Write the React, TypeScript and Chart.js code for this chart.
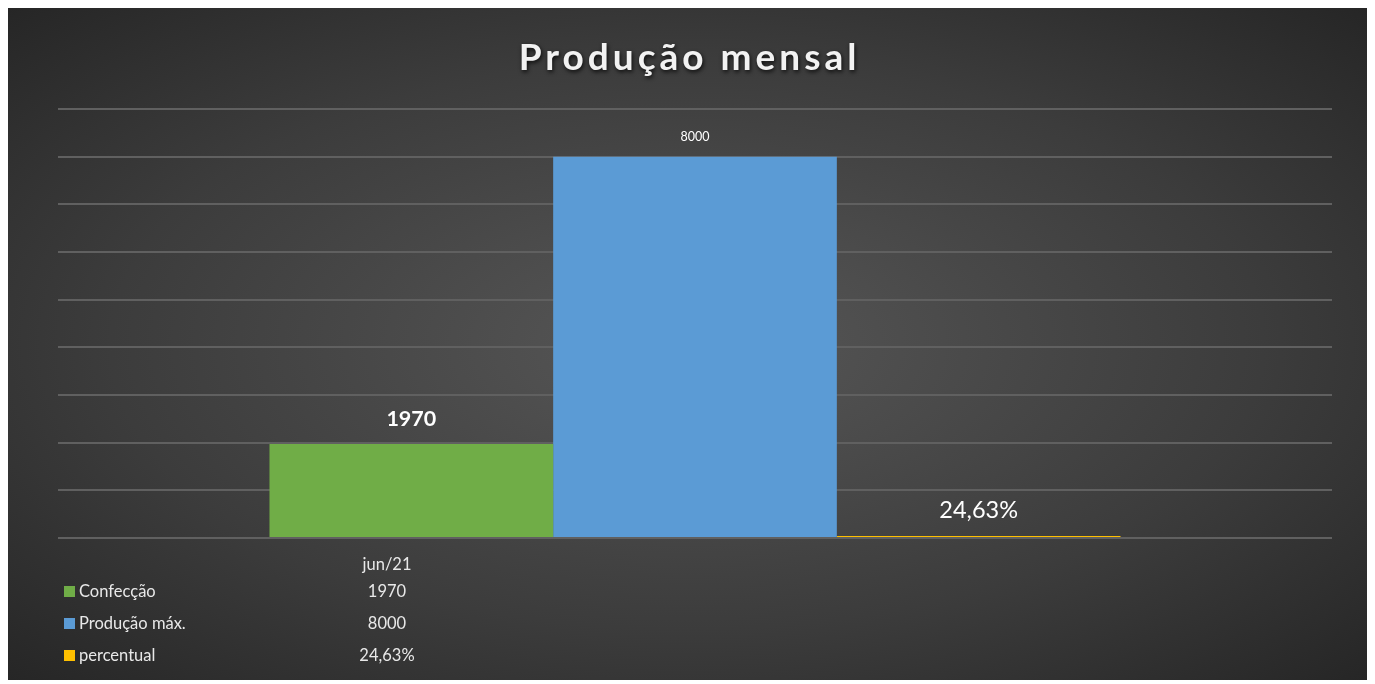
import React, { useEffect, useRef } from "react";
import { Chart, registerables } from "chart.js";

Chart.register(...registerables);

const categories = ["jun/21"];
const seriesNames = ["Confecção", "Produção máx.", "percentual"];
const confeccao = [1970];
const producaoMax = [8000];
const percentual = [0.2463];
const valueLabels = ["1970", "8000", "24,63%"];
const colors = ["#70AD47", "#5B9BD5", "#FFC000"];
const titleText = "Produção mensal";

const FONT = "Lato, 'Open Sans', sans-serif";

const overlayPlugin = {
  id: "overlay",
  afterDatasetsDraw(chart: any) {
    const ctx = chart.ctx as CanvasRenderingContext2D;
    ctx.save();
    const labelStyles = [
      { font: `bold 21.5px ${FONT}`, off: 25 },
      { font: `12.5px ${FONT}`, off: 20 },
      { font: `23.5px ${FONT}`, off: 26 },
    ];
    chart.data.datasets.forEach((ds: any, i: number) => {
      const meta = chart.getDatasetMeta(i);
      meta.data.forEach((bar: any) => {
        ctx.font = labelStyles[i].font;
        ctx.fillStyle = "#ffffff";
        ctx.textAlign = "center";
        ctx.textBaseline = "middle";
        ctx.fillText(valueLabels[i], bar.x, bar.y - labelStyles[i].off);
      });
    });
    ctx.restore();
  },
  afterDraw(chart: any) {
    const ctx = chart.ctx as CanvasRenderingContext2D;
    ctx.save();
    ctx.font = `bold 37px ${FONT}`;
    (ctx as any).letterSpacing = "4px";
    ctx.textAlign = "center";
    ctx.textBaseline = "middle";
    ctx.shadowColor = "rgba(0,0,0,0.8)";
    ctx.shadowBlur = 4;
    ctx.shadowOffsetX = 1;
    ctx.shadowOffsetY = 2;
    ctx.fillStyle = "#f2f2f2";
    ctx.fillText(titleText, chart.width / 2 + 2, 50);
    ctx.restore();

    ctx.save();
    ctx.font = `16.5px ${FONT}`;
    ctx.fillStyle = "#e8e8e8";
    ctx.textBaseline = "middle";
    const colX = 379;
    ctx.textAlign = "center";
    ctx.fillText(categories[0], colX, 557);
    const rowsY = [584, 616, 648];
    seriesNames.forEach((name, i) => {
      ctx.fillStyle = colors[i];
      ctx.fillRect(56, rowsY[i] - 6, 11, 11);
      ctx.fillStyle = "#e8e8e8";
      ctx.textAlign = "left";
      ctx.fillText(name, 71, rowsY[i]);
      ctx.textAlign = "center";
      ctx.fillText(valueLabels[i], colX, rowsY[i]);
    });
    ctx.restore();
  },
};

export default function App() {
  const ref = useRef<HTMLCanvasElement>(null);
  useEffect(() => {
    if (!ref.current) return;
    const chart = new Chart(ref.current, {
      type: "bar",
      data: {
        labels: categories,
        datasets: [
          { label: seriesNames[0], data: confeccao, backgroundColor: colors[0] },
          { label: seriesNames[1], data: producaoMax, backgroundColor: colors[1] },
          { label: seriesNames[2], data: percentual, backgroundColor: colors[2], minBarLength: 2 },
        ],
      },
      options: {
        animation: false,
        responsive: false,
        maintainAspectRatio: false,
        datasets: { bar: { categoryPercentage: 0.668, barPercentage: 1 } },
        layout: { padding: { left: 50, right: 35, top: 101, bottom: 142 } },
        plugins: { legend: { display: false }, title: { display: false }, tooltip: { enabled: false } },
        scales: {
          x: { display: false },
          y: {
            display: true,
            min: 0,
            max: 9000,
            ticks: { display: false, stepSize: 1000 },
            border: { display: false },
            grid: { color: "#606060", lineWidth: 2, drawTicks: false },
          },
        },
      },
      plugins: [overlayPlugin],
    });
    return () => chart.destroy();
  }, []);
  return (
    <div
      style={{
        width: 1359,
        height: 672,
        background: "radial-gradient(ellipse at center, #575757 0%, #3c3c3c 60%, #262626 100%)",
      }}
    >
      <canvas ref={ref} width={1359} height={672} style={{ display: "block" }} />
    </div>
  );
}
